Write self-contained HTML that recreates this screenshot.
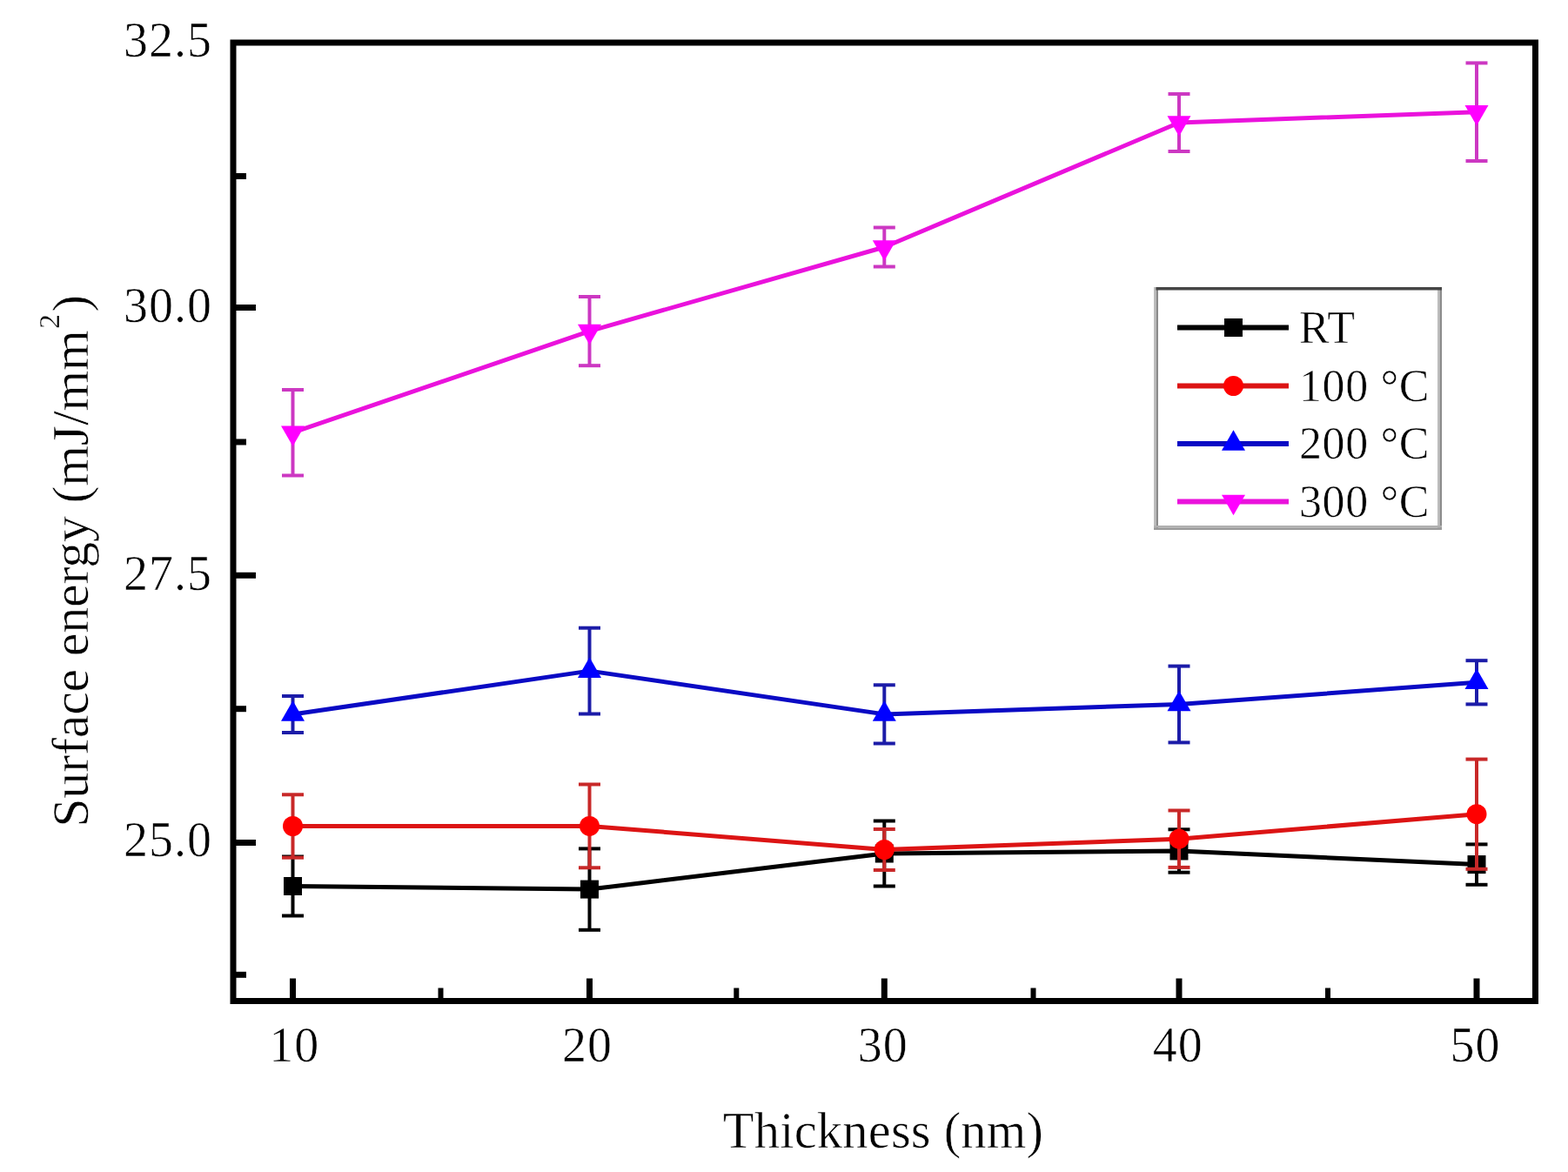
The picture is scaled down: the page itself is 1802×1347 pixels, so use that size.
<!DOCTYPE html>
<html><head><meta charset="utf-8"><title>Surface energy vs Thickness</title>
<style>
html,body{margin:0;padding:0;background:#fff;}
svg{display:block;}
text{font-family:"Liberation Serif","Times New Roman",serif;fill:#000;stroke:#fff;stroke-width:0.6px;}
.tk{font-size:56px;letter-spacing:1px;}
.ti{font-size:60px;}
.tx{font-size:58.5px;letter-spacing:0.2px;}
.lg{font-size:52px;letter-spacing:0.6px;}
</style></head>
<body>
<svg width="1802" height="1347" viewBox="0 0 1802 1347">
<rect width="1802" height="1347" fill="#fff"/>
<rect x="268" y="49" width="1496.5" height="1101.5" fill="none" stroke="#000" stroke-width="7"/>
<line x1="268" y1="353.5" x2="294" y2="353.5" stroke="#000" stroke-width="7"/>
<line x1="268" y1="661.3" x2="294" y2="661.3" stroke="#000" stroke-width="7"/>
<line x1="268" y1="968.5" x2="294" y2="968.5" stroke="#000" stroke-width="7"/>
<line x1="268" y1="202.5" x2="283" y2="202.5" stroke="#000" stroke-width="7"/>
<line x1="268" y1="508" x2="283" y2="508" stroke="#000" stroke-width="7"/>
<line x1="268" y1="814.7" x2="283" y2="814.7" stroke="#000" stroke-width="7"/>
<line x1="268" y1="1120.3" x2="283" y2="1120.3" stroke="#000" stroke-width="7"/>
<line x1="336.5" y1="1150.5" x2="336.5" y2="1124.5" stroke="#000" stroke-width="7"/>
<line x1="677.5" y1="1150.5" x2="677.5" y2="1124.5" stroke="#000" stroke-width="7"/>
<line x1="1016.3" y1="1150.5" x2="1016.3" y2="1124.5" stroke="#000" stroke-width="7"/>
<line x1="1355.0" y1="1150.5" x2="1355.0" y2="1124.5" stroke="#000" stroke-width="7"/>
<line x1="1697.0" y1="1150.5" x2="1697.0" y2="1124.5" stroke="#000" stroke-width="7"/>
<line x1="506.5" y1="1150.5" x2="506.5" y2="1135.5" stroke="#000" stroke-width="6"/>
<line x1="846.3" y1="1150.5" x2="846.3" y2="1135.5" stroke="#000" stroke-width="6"/>
<line x1="1187.5" y1="1150.5" x2="1187.5" y2="1135.5" stroke="#000" stroke-width="6"/>
<line x1="1526" y1="1150.5" x2="1526" y2="1135.5" stroke="#000" stroke-width="6"/>
<polyline points="336.5,1018.5 677.5,1022.1 1016.3,981.0 1355.0,978.0 1697.0,993.6" fill="none" stroke="#000000" stroke-width="5" stroke-linejoin="round"/>
<line x1="336.5" y1="984.5" x2="336.5" y2="1052.5" stroke="#000000" stroke-width="4"/>
<line x1="324.0" y1="984.5" x2="349.0" y2="984.5" stroke="#000000" stroke-width="4"/>
<line x1="324.0" y1="1052.5" x2="349.0" y2="1052.5" stroke="#000000" stroke-width="4"/>
<line x1="677.5" y1="975.4" x2="677.5" y2="1068.8" stroke="#000000" stroke-width="4"/>
<line x1="665.0" y1="975.4" x2="690.0" y2="975.4" stroke="#000000" stroke-width="4"/>
<line x1="665.0" y1="1068.8" x2="690.0" y2="1068.8" stroke="#000000" stroke-width="4"/>
<line x1="1016.3" y1="943.5" x2="1016.3" y2="1018.5" stroke="#000000" stroke-width="4"/>
<line x1="1003.8" y1="943.5" x2="1028.8" y2="943.5" stroke="#000000" stroke-width="4"/>
<line x1="1003.8" y1="1018.5" x2="1028.8" y2="1018.5" stroke="#000000" stroke-width="4"/>
<line x1="1355.0" y1="953.3" x2="1355.0" y2="1002.7" stroke="#000000" stroke-width="4"/>
<line x1="1342.5" y1="953.3" x2="1367.5" y2="953.3" stroke="#000000" stroke-width="4"/>
<line x1="1342.5" y1="1002.7" x2="1367.5" y2="1002.7" stroke="#000000" stroke-width="4"/>
<line x1="1697.0" y1="970.4" x2="1697.0" y2="1016.8" stroke="#000000" stroke-width="4"/>
<line x1="1684.5" y1="970.4" x2="1709.5" y2="970.4" stroke="#000000" stroke-width="4"/>
<line x1="1684.5" y1="1016.8" x2="1709.5" y2="1016.8" stroke="#000000" stroke-width="4"/>
<rect x="326.0" y="1008.0" width="21" height="21" fill="#000000"/>
<rect x="667.0" y="1011.6" width="21" height="21" fill="#000000"/>
<rect x="1005.8" y="970.5" width="21" height="21" fill="#000000"/>
<rect x="1344.5" y="967.5" width="21" height="21" fill="#000000"/>
<rect x="1686.5" y="983.1" width="21" height="21" fill="#000000"/>
<polyline points="336.5,949.5 677.5,949.4 1016.3,976.5 1355.0,964.2 1697.0,935.7" fill="none" stroke="#dc1414" stroke-width="5" stroke-linejoin="round"/>
<line x1="336.5" y1="913.3" x2="336.5" y2="985.7" stroke="#c82828" stroke-width="4"/>
<line x1="324.0" y1="913.3" x2="349.0" y2="913.3" stroke="#c82828" stroke-width="4"/>
<line x1="324.0" y1="985.7" x2="349.0" y2="985.7" stroke="#c82828" stroke-width="4"/>
<line x1="677.5" y1="901.5" x2="677.5" y2="997.3" stroke="#c82828" stroke-width="4"/>
<line x1="665.0" y1="901.5" x2="690.0" y2="901.5" stroke="#c82828" stroke-width="4"/>
<line x1="665.0" y1="997.3" x2="690.0" y2="997.3" stroke="#c82828" stroke-width="4"/>
<line x1="1016.3" y1="953.0" x2="1016.3" y2="1000.0" stroke="#c82828" stroke-width="4"/>
<line x1="1003.8" y1="953.0" x2="1028.8" y2="953.0" stroke="#c82828" stroke-width="4"/>
<line x1="1003.8" y1="1000.0" x2="1028.8" y2="1000.0" stroke="#c82828" stroke-width="4"/>
<line x1="1355.0" y1="931.5" x2="1355.0" y2="996.9" stroke="#c82828" stroke-width="4"/>
<line x1="1342.5" y1="931.5" x2="1367.5" y2="931.5" stroke="#c82828" stroke-width="4"/>
<line x1="1342.5" y1="996.9" x2="1367.5" y2="996.9" stroke="#c82828" stroke-width="4"/>
<line x1="1697.0" y1="872.6" x2="1697.0" y2="998.8" stroke="#c82828" stroke-width="4"/>
<line x1="1684.5" y1="872.6" x2="1709.5" y2="872.6" stroke="#c82828" stroke-width="4"/>
<line x1="1684.5" y1="998.8" x2="1709.5" y2="998.8" stroke="#c82828" stroke-width="4"/>
<circle cx="336.5" cy="949.5" r="11.5" fill="#ff0000"/>
<circle cx="677.5" cy="949.4" r="11.5" fill="#ff0000"/>
<circle cx="1016.3" cy="976.5" r="11.5" fill="#ff0000"/>
<circle cx="1355.0" cy="964.2" r="11.5" fill="#ff0000"/>
<circle cx="1697.0" cy="935.7" r="11.5" fill="#ff0000"/>
<polyline points="336.5,821.0 677.5,771.1 1016.3,820.9 1355.0,809.5 1697.0,784.3" fill="none" stroke="#0a0ac4" stroke-width="5" stroke-linejoin="round"/>
<line x1="336.5" y1="800.0" x2="336.5" y2="842.0" stroke="#1c1ca8" stroke-width="4"/>
<line x1="324.0" y1="800.0" x2="349.0" y2="800.0" stroke="#1c1ca8" stroke-width="4"/>
<line x1="324.0" y1="842.0" x2="349.0" y2="842.0" stroke="#1c1ca8" stroke-width="4"/>
<line x1="677.5" y1="721.7" x2="677.5" y2="820.5" stroke="#1c1ca8" stroke-width="4"/>
<line x1="665.0" y1="721.7" x2="690.0" y2="721.7" stroke="#1c1ca8" stroke-width="4"/>
<line x1="665.0" y1="820.5" x2="690.0" y2="820.5" stroke="#1c1ca8" stroke-width="4"/>
<line x1="1016.3" y1="787.3" x2="1016.3" y2="854.5" stroke="#1c1ca8" stroke-width="4"/>
<line x1="1003.8" y1="787.3" x2="1028.8" y2="787.3" stroke="#1c1ca8" stroke-width="4"/>
<line x1="1003.8" y1="854.5" x2="1028.8" y2="854.5" stroke="#1c1ca8" stroke-width="4"/>
<line x1="1355.0" y1="765.6" x2="1355.0" y2="853.4" stroke="#1c1ca8" stroke-width="4"/>
<line x1="1342.5" y1="765.6" x2="1367.5" y2="765.6" stroke="#1c1ca8" stroke-width="4"/>
<line x1="1342.5" y1="853.4" x2="1367.5" y2="853.4" stroke="#1c1ca8" stroke-width="4"/>
<line x1="1697.0" y1="759.2" x2="1697.0" y2="809.4" stroke="#1c1ca8" stroke-width="4"/>
<line x1="1684.5" y1="759.2" x2="1709.5" y2="759.2" stroke="#1c1ca8" stroke-width="4"/>
<line x1="1684.5" y1="809.4" x2="1709.5" y2="809.4" stroke="#1c1ca8" stroke-width="4"/>
<polygon points="323.0,828.8 350.0,828.8 336.5,805.3" fill="#0000ff"/>
<polygon points="664.0,778.9 691.0,778.9 677.5,755.4" fill="#0000ff"/>
<polygon points="1002.8,828.7 1029.8,828.7 1016.3,805.2" fill="#0000ff"/>
<polygon points="1341.5,817.3 1368.5,817.3 1355.0,793.8" fill="#0000ff"/>
<polygon points="1683.5,792.1 1710.5,792.1 1697.0,768.6" fill="#0000ff"/>
<polyline points="336.5,497.2 677.5,380.6 1016.3,284.0 1355.0,141.0 1697.0,128.7" fill="none" stroke="#ea12dc" stroke-width="5" stroke-linejoin="round"/>
<line x1="336.5" y1="448.0" x2="336.5" y2="546.5" stroke="#cc38c2" stroke-width="4"/>
<line x1="324.0" y1="448.0" x2="349.0" y2="448.0" stroke="#cc38c2" stroke-width="4"/>
<line x1="324.0" y1="546.5" x2="349.0" y2="546.5" stroke="#cc38c2" stroke-width="4"/>
<line x1="677.5" y1="341.0" x2="677.5" y2="420.2" stroke="#cc38c2" stroke-width="4"/>
<line x1="665.0" y1="341.0" x2="690.0" y2="341.0" stroke="#cc38c2" stroke-width="4"/>
<line x1="665.0" y1="420.2" x2="690.0" y2="420.2" stroke="#cc38c2" stroke-width="4"/>
<line x1="1016.3" y1="261.5" x2="1016.3" y2="306.5" stroke="#cc38c2" stroke-width="4"/>
<line x1="1003.8" y1="261.5" x2="1028.8" y2="261.5" stroke="#cc38c2" stroke-width="4"/>
<line x1="1003.8" y1="306.5" x2="1028.8" y2="306.5" stroke="#cc38c2" stroke-width="4"/>
<line x1="1355.0" y1="108.0" x2="1355.0" y2="174.0" stroke="#cc38c2" stroke-width="4"/>
<line x1="1342.5" y1="108.0" x2="1367.5" y2="108.0" stroke="#cc38c2" stroke-width="4"/>
<line x1="1342.5" y1="174.0" x2="1367.5" y2="174.0" stroke="#cc38c2" stroke-width="4"/>
<line x1="1697.0" y1="72.4" x2="1697.0" y2="185.0" stroke="#cc38c2" stroke-width="4"/>
<line x1="1684.5" y1="72.4" x2="1709.5" y2="72.4" stroke="#cc38c2" stroke-width="4"/>
<line x1="1684.5" y1="185.0" x2="1709.5" y2="185.0" stroke="#cc38c2" stroke-width="4"/>
<polygon points="323.0,489.4 350.0,489.4 336.5,512.9" fill="#ff00ff"/>
<polygon points="664.0,372.8 691.0,372.8 677.5,396.3" fill="#ff00ff"/>
<polygon points="1002.8,276.2 1029.8,276.2 1016.3,299.7" fill="#ff00ff"/>
<polygon points="1341.5,133.2 1368.5,133.2 1355.0,156.7" fill="#ff00ff"/>
<polygon points="1683.5,120.9 1710.5,120.9 1697.0,144.4" fill="#ff00ff"/>
<rect x="1326" y="330" width="331" height="279" fill="#fff"/>
<rect x="1326" y="330" width="2.5" height="279" fill="#bdbdbd"/>
<rect x="1328.5" y="330" width="2.5" height="279" fill="#8c8c8c"/>
<rect x="1652" y="330" width="2.5" height="279" fill="#bdbdbd"/>
<rect x="1654.5" y="330" width="2.5" height="279" fill="#8c8c8c"/>
<rect x="1326" y="604" width="331" height="2.5" fill="#b0b0b0"/>
<rect x="1326" y="606.5" width="331" height="2.5" fill="#999999"/>
<rect x="1328.5" y="330" width="328.5" height="3.5" fill="#454545"/>
<line x1="1353" y1="376.5" x2="1481" y2="376.5" stroke="#000000" stroke-width="6"/>
<rect x="1407.0" y="366.0" width="21" height="21" fill="#000000"/>
<text x="1493" y="393.5" class="lg">RT</text>
<line x1="1353" y1="443.5" x2="1481" y2="443.5" stroke="#dc1414" stroke-width="6"/>
<circle cx="1417.5" cy="443.5" r="11.5" fill="#ff0000"/>
<text x="1493" y="460.5" class="lg">100 °C</text>
<line x1="1353" y1="510" x2="1481" y2="510" stroke="#0a0ac4" stroke-width="6"/>
<polygon points="1404.0,517.8 1431.0,517.8 1417.5,494.3" fill="#0000ff"/>
<text x="1493" y="527" class="lg">200 °C</text>
<line x1="1353" y1="576.5" x2="1481" y2="576.5" stroke="#ea12dc" stroke-width="6"/>
<polygon points="1404.0,568.7 1431.0,568.7 1417.5,592.2" fill="#ff00ff"/>
<text x="1493" y="593.5" class="lg">300 °C</text>
<text x="244" y="65" text-anchor="end" class="tk">32.5</text>
<text x="244" y="369.5" text-anchor="end" class="tk">30.0</text>
<text x="244" y="678" text-anchor="end" class="tk">27.5</text>
<text x="244" y="984.3" text-anchor="end" class="tk">25.0</text>
<text x="338.2" y="1220" text-anchor="middle" class="tk">10</text>
<text x="675" y="1220" text-anchor="middle" class="tk">20</text>
<text x="1014.8" y="1220" text-anchor="middle" class="tk">30</text>
<text x="1353.8" y="1220" text-anchor="middle" class="tk">40</text>
<text x="1695.5" y="1220" text-anchor="middle" class="tk">50</text>
<text x="1015" y="1319" text-anchor="middle" class="tx">Thickness (nm)</text>
<text transform="translate(101,950.8) rotate(-90)" class="ti" letter-spacing="-0.2">Surface energy (mJ/mm<tspan dy="-33" dx="1.5" font-size="34" style="stroke-width:0.3px">2</tspan><tspan dy="33" dx="2.5">)</tspan></text>
</svg>
</body></html>
